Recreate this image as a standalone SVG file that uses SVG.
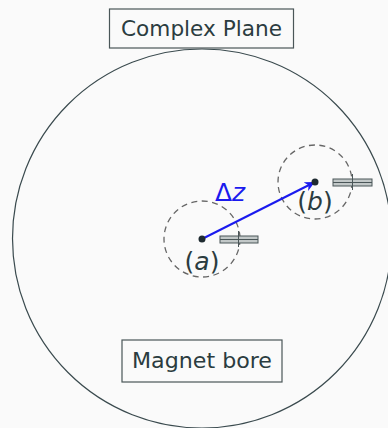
<svg xmlns="http://www.w3.org/2000/svg" width="388" height="428" viewBox="0 0 388 428">
<defs>
<style>
.lbl{font-family:"DejaVu Sans","Liberation Sans",sans-serif;fill:#2b3c40;font-size:21px}
.pt{font-family:"DejaVu Sans","Liberation Sans",sans-serif;fill:#2b3c40;font-size:25px}
.box{fill:#fafafa;stroke:#4a5658;stroke-width:1.2}
.dash{fill:none;stroke:#666;stroke-width:1.3;stroke-dasharray:6,4.5}
.mag{fill:#c2c8c8;stroke:#4a5658;stroke-width:1}
.magl{stroke:#4a5658;stroke-width:1}
</style>
<marker id="ah" viewBox="0 0 10 10" refX="8" refY="5" markerWidth="5" markerHeight="5" orient="auto" markerUnits="strokeWidth">
<path d="M0,0 L10,5 L0,10 L3,5 Z" fill="#1a1aee"/>
</marker>
</defs>
<rect width="388" height="428" fill="#fafafa"/>
<g id="bore">
<circle cx="202" cy="238.5" r="189.5" fill="none" stroke="#3a4a4e" stroke-width="1.2"/>
</g>
<g id="complex-plane">
<rect class="box" x="109.5" y="9" width="184" height="39"/>
<text class="lbl" x="201.5" y="35.5" text-anchor="middle" textLength="161" lengthAdjust="spacingAndGlyphs">Complex Plane</text>
</g>
<g id="magnet-bore">
<rect class="box" x="122" y="340" width="160" height="42"/>
<text class="lbl" x="202" y="367.5" text-anchor="middle" textLength="140" lengthAdjust="spacingAndGlyphs">Magnet bore</text>
</g>
<g id="point-a">
<circle class="dash" cx="202" cy="239" r="38"/>
<rect class="mag" x="220" y="236" width="38" height="7"/>
<line class="magl" x1="220" y1="239.5" x2="258" y2="239.5"/>
<line class="magl" x1="238.5" y1="231" x2="238.5" y2="247"/>
<text class="pt" x="202" y="270" text-anchor="middle">(<tspan font-style="italic">a</tspan>)</text>
</g>
<g id="point-b">
<circle class="dash" cx="315" cy="182" r="37"/>
<rect class="mag" x="333" y="179" width="39" height="7"/>
<line class="magl" x1="333" y1="182.5" x2="372" y2="182.5"/>
<line class="magl" x1="352.5" y1="174" x2="352.5" y2="190"/>
<text class="pt" x="315" y="210" text-anchor="middle">(<tspan font-style="italic">b</tspan>)</text>
</g>
<g id="connectors">
<line x1="202" y1="239" x2="313" y2="183" stroke="#1a1aee" stroke-width="2" marker-end="url(#ah)"/>
<text x="230" y="201" text-anchor="middle" font-family="DejaVu Sans, Liberation Sans, sans-serif" font-size="25" fill="#1a1aee">Δ<tspan font-style="italic">z</tspan></text>
</g>
<circle cx="202" cy="239" r="3.5" fill="#1e2a30"/>
<circle cx="315" cy="182" r="3.5" fill="#1e2a30"/>
</svg>
